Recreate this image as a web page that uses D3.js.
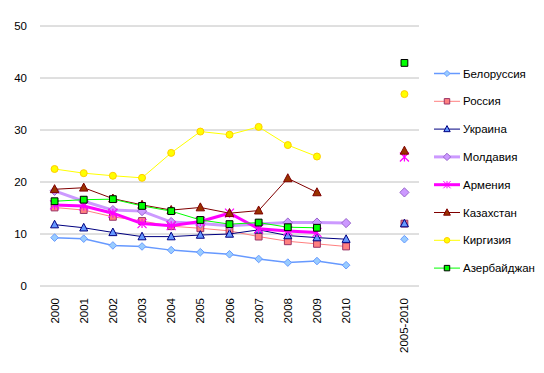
<!DOCTYPE html>
<html>
<head>
<meta charset="utf-8">
<script src="https://cdn.jsdelivr.net/npm/d3@7"></script>
<style>
  body { margin: 0; background: #fff; }
  text { font-family: Arial, "Liberation Sans", sans-serif; }
</style>
</head>
<body>
<div id="chart"></div>
<script>
const WIDTH = 544;
const HEIGHT = 373;

// categories: index 11 is an empty slot before the 2005-2010 column
const YEARS = ["2000", "2001", "2002", "2003", "2004", "2005", "2006", "2007", "2008", "2009", "2010", "", "2005-2010"];
const Y_TICKS = [0, 10, 20, 30, 40, 50];

const BELARUS    = [9.3, 9.1, 7.8, 7.6, 6.9, 6.5, 6.1, 5.2, 4.5, 4.8, 4.0, null, 9.0];
const RUSSIA     = [15.1, 14.6, 13.3, 12.5, 11.5, 11.1, 10.6, 9.5, 8.6, 8.1, 7.6, null, 12.0];
const UKRAINE    = [11.8, 11.2, 10.3, 9.5, 9.5, 9.8, 10.0, 10.8, 9.7, 9.3, 9.0, null, 12.0];
const MOLDOVA    = [18.3, 16.3, 14.6, 14.4, 12.3, 12.0, 11.6, 11.9, 12.2, 12.2, 12.1, null, 18.0];
const ARMENIA    = [15.6, 15.4, 14.0, 12.0, 11.6, 12.4, 14.0, 11.0, 10.6, 10.3, null, null, 24.8];
const KAZAKHSTAN = [18.6, 18.9, 16.8, 15.6, 14.6, 15.1, 14.0, 14.5, 20.7, 18.0, null, null, 26.0];
const KYRGYZSTAN = [22.5, 21.7, 21.2, 20.8, 25.6, 29.7, 29.1, 30.6, 27.1, 24.9, null, null, 36.9];
const AZERBAIJAN = [16.3, 16.6, 16.7, 15.4, 14.4, 12.7, 11.9, 12.2, 11.3, 11.2, null, null, 42.9];

const SERIES = [
  {name: "Белоруссия",  values: BELARUS,    line: "#6699ff", lw: 1.5, shape: "diamond",  fill: "#99ccff", stroke: "#6699ff", size: 3.8},
  {name: "Россия",      values: RUSSIA,     line: "#ff8080", lw: 1,   shape: "square",   fill: "#ff8080", stroke: "#993366", size: 3.4},
  {name: "Украина",     values: UKRAINE,    line: "#000080", lw: 1,   shape: "triangle", fill: "#6699ff", stroke: "#000080", size: 4},
  {name: "Молдавия",    values: MOLDOVA,    line: "#cc99ff", lw: 3,   shape: "diamond",  fill: "#cc99ff", stroke: "#9966cc", size: 4.6},
  {name: "Армения",     values: ARMENIA,    line: "#ff00ff", lw: 3,   shape: "star",     fill: "none",    stroke: "#ff00ff", size: 4.5},
  {name: "Казахстан",   values: KAZAKHSTAN, line: "#800000", lw: 1,   shape: "triangle", fill: "#993300", stroke: "#800000", size: 4.2},
  {name: "Киргизия",    values: KYRGYZSTAN, line: "#ffff00", lw: 1,   shape: "circle",   fill: "#ffff00", stroke: "#ffcc00", size: 3.5},
  {name: "Азербайджан", values: AZERBAIJAN, line: "#00ff00", lw: 1,   shape: "square",   fill: "#00ff00", stroke: "#000000", size: 3.4}
];

let markerPath = (shape, s) => {
  if (shape == "diamond") return `M0,${-s}L${s},0L0,${s}L${-s},0Z`;
  if (shape == "square") return `M${-s},${-s}H${s}V${s}H${-s}Z`;
  if (shape == "triangle") return `M0,${-s * 1.1}L${s},${s * 0.8}L${-s},${s * 0.8}Z`;
  if (shape == "star") return `M0,${-s}V${s}M${-s},${-s}L${s},${s}M${s},${-s}L${-s},${s}`;
  return `M${s},0A${s},${s} 0 1,1 ${-s},0A${s},${s} 0 1,1 ${s},0Z`;
}

var svg = d3.select("#chart")
  .append("svg")
  .attr("width", WIDTH)
  .attr("height", HEIGHT)

var x = d3.scalePoint()
  .domain(d3.range(YEARS.length))
  .range([40, 419])
  .padding(0.5)

var y = d3.scaleLinear()
  .domain([0, 50])
  .range([286, 26])

// grid lines
svg.append("g")
  .selectAll("line")
  .data(Y_TICKS)
  .enter()
  .append("line")
  .attr("x1", 40)
  .attr("x2", 419)
  .attr("y1", d => y(d))
  .attr("y2", d => y(d))
  .style("stroke", "#c0c0c0")
  .style("stroke-width", 1)

svg.append("g")
  .selectAll("text")
  .data(Y_TICKS)
  .enter()
  .append("text")
  .attr("x", 27)
  .attr("y", d => y(d) + 4)
  .attr("text-anchor", "end")
  .style("font-size", "11.5px")
  .style("fill", "#000")
  .text(d => d)

// rotated category labels
svg.append("g")
  .selectAll("text")
  .data(YEARS.map((t, i) => ({t: t, i: i})).filter(d => d.t != ""))
  .enter()
  .append("text")
  .attr("transform", d => `translate(${x(d.i) + 4},298) rotate(-90)`)
  .attr("text-anchor", "end")
  .style("font-size", "11.5px")
  .style("fill", "#000")
  .text(d => d.t)

var line = d3.line()
  .defined(d => d.v != null)
  .x(d => x(d.i))
  .y(d => y(d.v))

var plot = svg.append("g")

SERIES.forEach(s => {
  let pts = s.values.map((v, i) => ({v: v, i: i}))
  let g = plot.append("g")
  g.append("path")
    .datum(pts)
    .attr("d", line)
    .style("fill", "none")
    .style("stroke", s.line)
    .style("stroke-width", s.lw)
  g.selectAll("path.m")
    .data(pts.filter(d => d.v != null))
    .enter()
    .append("path")
    .attr("class", "m")
    .attr("transform", d => `translate(${x(d.i)},${y(d.v)})`)
    .attr("d", markerPath(s.shape, s.size))
    .style("fill", s.fill)
    .style("stroke", s.stroke)
    .style("stroke-width", s.shape == "star" ? 1.2 : 1)
})

// legend
var legend = svg.append("g")
  .selectAll("g")
  .data(SERIES)
  .enter()
  .append("g")
  .attr("transform", (d, i) => `translate(434,${73.5 + i * 27.8})`)

legend.append("line")
  .attr("x1", 0)
  .attr("x2", 26)
  .style("stroke", d => d.line)
  .style("stroke-width", d => d.lw)

legend.append("path")
  .attr("transform", "translate(13,0)")
  .attr("d", d => markerPath(d.shape, d.size * 0.8))
  .style("fill", d => d.fill)
  .style("stroke", d => d.stroke)
  .style("stroke-width", 1)

legend.append("text")
  .attr("x", 29)
  .attr("y", 4)
  .style("font-size", "11.5px")
  .style("fill", "#000")
  .text(d => d.name)
</script>
</body>
</html>
